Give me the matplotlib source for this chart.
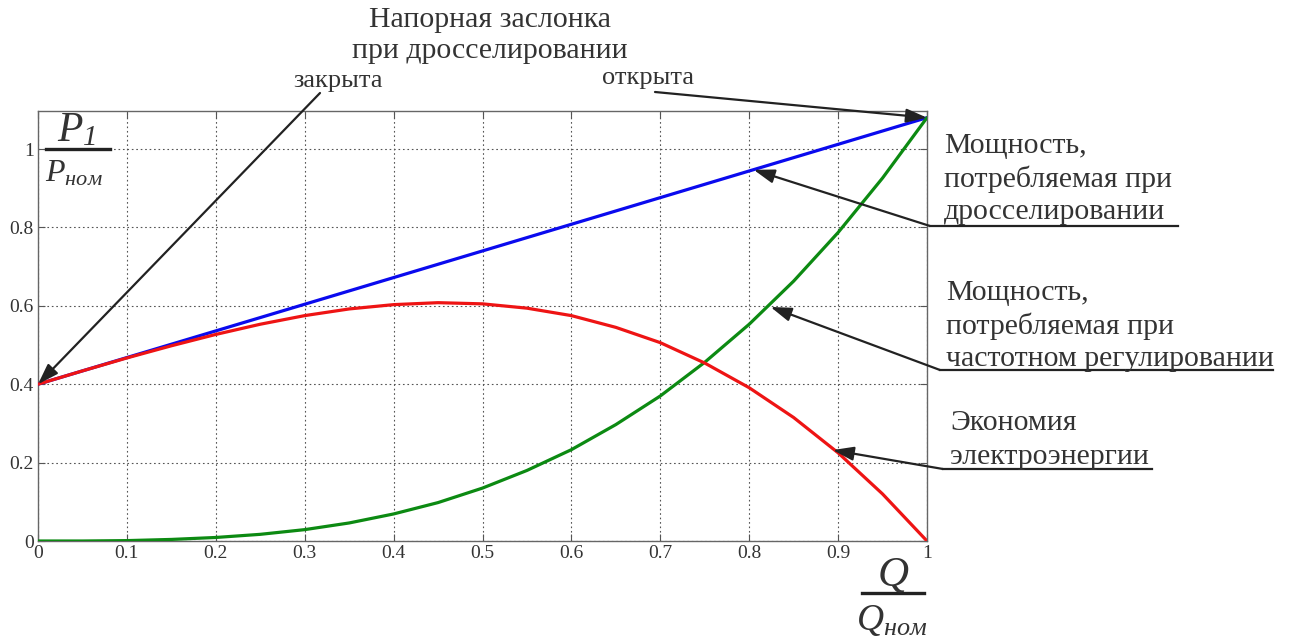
import matplotlib
matplotlib.use("Agg")
import matplotlib.pyplot as plt
from matplotlib.lines import Line2D

plt.rcParams["mathtext.fontset"] = "custom"
plt.rcParams["mathtext.it"] = "Liberation Serif:italic"
plt.rcParams["mathtext.rm"] = "Liberation Serif"
plt.rcParams["mathtext.default"] = "it"

# Relative flow Q/Qnom
flow = [0.0, 0.05, 0.1, 0.15, 0.2, 0.25, 0.3, 0.35, 0.4, 0.45, 0.5,
        0.55, 0.6, 0.65, 0.7, 0.75, 0.8, 0.85, 0.9, 0.95, 1.0]
# Power drawn with throttling (discharge damper)
p_throttle = [0.400, 0.434, 0.468, 0.502, 0.536, 0.570, 0.604, 0.638, 0.672, 0.706, 0.740,
              0.774, 0.808, 0.842, 0.876, 0.910, 0.944, 0.978, 1.012, 1.046, 1.080]
# Power drawn with frequency control
p_vfd = [0.000, 0.000, 0.001, 0.004, 0.009, 0.017, 0.029, 0.046, 0.069, 0.098, 0.135,
         0.180, 0.233, 0.297, 0.370, 0.456, 0.553, 0.663, 0.787, 0.926, 1.080]
# Energy saving
p_saving = [0.400, 0.434, 0.467, 0.498, 0.527, 0.553, 0.575, 0.592, 0.603, 0.608, 0.605,
            0.594, 0.575, 0.545, 0.506, 0.454, 0.391, 0.315, 0.225, 0.120, 0.000]

x_ticks = [0, 0.1, 0.2, 0.3, 0.4, 0.5, 0.6, 0.7, 0.8, 0.9, 1]
x_tick_labels = ["0", "0.1", "0.2", "0.3", "0.4", "0.5", "0.6", "0.7", "0.8", "0.9", "1"]
y_ticks = [0, 0.2, 0.4, 0.6, 0.8, 1]
y_tick_labels = ["0", "0.2", "0.4", "0.6", "0.8", "1"]

W, H = 1291, 637
SERIF = ["Liberation Serif", "DejaVu Serif"]
TXT = "#333333"
CAP = 21.5

fig = plt.figure(figsize=(W / 100, H / 100), dpi=100)
ax = fig.add_axes([38 / W, 1 - 541 / H, (927 - 38) / W, (541 - 111) / H])

ax.plot(flow, p_throttle, color="#0a0aee", lw=2.3, solid_capstyle="round", zorder=3)
ax.plot(flow, p_vfd, color="#0c8a12", lw=2.3, solid_capstyle="round", zorder=3)
ax.plot(flow, p_saving, color="#ee1414", lw=2.3, solid_capstyle="round", zorder=4)

ax.set_xlim(0, 1)
ax.set_ylim(0, 1.097)
ax.set_xticks(x_ticks)
ax.set_xticklabels(x_tick_labels, fontfamily=SERIF, fontsize=14, color=TXT)
ax.set_yticks(y_ticks)
ax.set_yticklabels(y_tick_labels, fontfamily=SERIF, fontsize=14, color=TXT)
ax.tick_params(direction="in", length=5, width=0.8, color="#555555",
               top=True, right=True, pad=3)
ax.grid(True, linestyle=(0, (1.5, 2.5)), color="#555555", lw=0.8)
for s in ax.spines.values():
    s.set_color("#666666")
    s.set_linewidth(1.0)


def fy(y_img):
    return H - y_img


def ftext(x, y, s, **kw):
    kw.setdefault("fontfamily", SERIF)
    kw.setdefault("color", TXT)
    return fig.text(x / W, fy(y) / H, s, **kw)


def bar(x0, x1, y):
    fig.add_artist(Line2D([x0 / W, x1 / W], [fy(y) / H, fy(y) / H],
                          color="#222222", lw=2.4, transform=fig.transFigure))


# Y-axis fraction label P1 / Pnom
ftext(83, 141, "P", fontsize=30, style="italic", ha="right", va="baseline")
ftext(83, 145, "1", fontsize=21, style="italic", ha="left", va="baseline")
bar(46, 110, 149)
ftext(74, 182, r"$P_{ном}$", fontsize=23, ha="center", va="baseline")

# X-axis fraction label Q / Qnom
ftext(893, 586, r"$Q$", fontsize=31, ha="center", va="baseline")
bar(862, 924, 593)
ftext(892, 630, r"$Q_{ном}$", fontsize=27, ha="center", va="baseline")

# Damper captions
ftext(490, 20, "Напорная заслонка", fontsize=CAP, ha="center", va="center")
ftext(490, 51, "при дросселировании", fontsize=CAP, ha="center", va="center")
ftext(338, 81, "закрыта", fontsize=19, ha="center", va="center")
ftext(648, 78, "открыта", fontsize=19, ha="center", va="center")

arrow_kw = dict(arrowstyle="-|>,head_length=0.9,head_width=0.3", color="#222222",
                lw=1.6, shrinkA=0, shrinkB=0, mutation_scale=14)


def pointer(xy_data, tail_px):
    ax.annotate("", xy=xy_data, xycoords="data",
                xytext=(tail_px[0], fy(tail_px[1])), textcoords="figure pixels",
                arrowprops=arrow_kw, annotation_clip=False, zorder=6)


pointer((flow[0], p_throttle[0]), (320, 93))
pointer((flow[-1], p_throttle[-1]), (655, 92))
pointer((0.805, 0.947), (930, 226))
pointer((0.824, 0.597), (940, 370))
pointer((0.894, 0.232), (943, 469))


# Side captions with underlines
def caption(lines, x_left, y_first, spacing, x_under_start, x_under_end, y_under):
    for i, t in enumerate(lines):
        ftext(x_left, y_first + i * spacing, t, fontsize=CAP, ha="left", va="center")
    fig.add_artist(Line2D([x_under_start / W, x_under_end / W],
                          [fy(y_under) / H, fy(y_under) / H],
                          color="#222222", lw=1.6, transform=fig.transFigure))


caption(["Мощность,", "потребляемая при", "дросселировании"],
        944, 146, 33, 930, 1178, 226)
caption(["Мощность,", "потребляемая при", "частотном регулировании"],
        946, 293, 33, 940, 1273, 370)
caption(["Экономия", "электроэнергии"],
        950, 423, 34, 943, 1152, 469)

fig.savefig("out.png", dpi=100, facecolor="white")
